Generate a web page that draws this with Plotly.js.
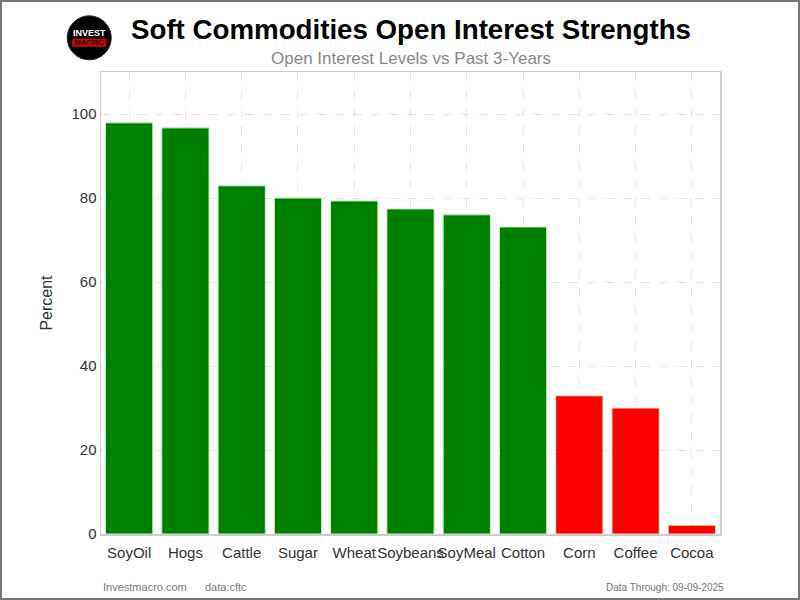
<!DOCTYPE html>
<html><head><meta charset="utf-8">
<script src="https://cdn.plot.ly/plotly-3.0.1.min.js"></script>
<style>html,body{margin:0;padding:0;background:#fff}#c{width:800px;height:600px;box-sizing:border-box;border:2px solid #777}</style>
</head><body><div id="c"></div>
<script>
var categories = ["SoyOil","Hogs","Cattle","Sugar","Wheat","Soybeans","SoyMeal","Cotton","Corn","Coffee","Cocoa"];
var values = [97.9, 96.7, 82.9, 80.0, 79.3, 77.4, 76.0, 73.1, 32.9, 30.0, 2.1];
var yTicks = [0, 20, 40, 60, 80, 100];
var colors = values.map(function(v){ return v >= 50 ? "#008000" : "#ff0000"; });

var F = "Liberation Sans, Arial, sans-serif";
var trace = {
  type: "bar", x: categories, y: values,
  marker: {color: colors, line: {color: "#c8f0c8", width: 1}},
  hoverinfo: "x+y"
};
var layout = {
  width: 796, height: 596,
  margin: {l: 99, r: 78, t: 70, b: 64},
  paper_bgcolor: "#fff", plot_bgcolor: "#fff",
  showlegend: false,
  bargap: 0.16,
  font: {family: F, color: "#333", size: 15},
  xaxis: {
    range: [-0.5, 10.5], tickfont: {size: 15, color: "#333"}, tickangle: 0,
    ticklabelstandoff: 4,
    showgrid: true, gridcolor: "#e3e3e3", griddash: "dash", gridwidth: 1,
    showline: true, linecolor: "#cccccc", linewidth: 1.5, mirror: true,
    ticks: "", zeroline: false
  },
  yaxis: {
    range: [0, 110], tickvals: yTicks, tickfont: {size: 15, color: "#333"},
    title: {text: "Percent", font: {size: 16, color: "#333"}, standoff: 15},
    showgrid: true, gridcolor: "#e3e3e3", griddash: "dash", gridwidth: 1,
    showline: true, linecolor: "#cccccc", linewidth: 1.5, mirror: true,
    ticks: "", zeroline: false
  },
  shapes: [
    {type: "circle", xref: "paper", yref: "paper", xsizemode: "pixel", ysizemode: "pixel",
     xanchor: -0.019, yanchor: 1.074, x0: -22, x1: 22, y0: -22, y1: 22,
     fillcolor: "#000", line: {color: "#222", width: 1}},
    {type: "rect", xref: "paper", yref: "paper", xsizemode: "pixel", ysizemode: "pixel",
     xanchor: -0.019, yanchor: 1.074, x0: -17, x1: 17, y0: -9, y1: -1,
     fillcolor: "#e00000", line: {width: 0}}
  ],
  annotations: [
    {text: "<b>Soft Commodities Open Interest Strengths</b>", xref: "paper", yref: "paper",
     x: 0.5, y: 1.091, xanchor: "center", yanchor: "middle", showarrow: false,
     font: {family: F, size: 27.7, color: "#000"}},
    {text: "Open Interest Levels vs Past 3-Years", xref: "paper", yref: "paper",
     x: 0.5, y: 1.03, xanchor: "center", yanchor: "middle", showarrow: false,
     font: {family: F, size: 17, color: "#888"}},
    {text: "<b>INVEST</b>", xref: "paper", yref: "paper", x: -0.019, y: 1.085,
     xanchor: "center", yanchor: "middle", showarrow: false,
     font: {family: F, size: 9, color: "#fff"}},
    {text: "<b>MACRO</b>", xref: "paper", yref: "paper", x: -0.019, y: 1.063,
     xanchor: "center", yanchor: "middle", showarrow: false,
     font: {family: F, size: 8, color: "#000"}},
    {text: "Investmacro.com", xref: "paper", yref: "paper", x: 0, y: -0.115,
     xanchor: "left", yanchor: "middle", showarrow: false,
     font: {family: "Liberation Sans Narrow, " + F, size: 11, color: "#777"}},
    {text: "data:cftc", xref: "paper", yref: "paper", x: 0.164, y: -0.115,
     xanchor: "left", yanchor: "middle", showarrow: false,
     font: {family: "Liberation Sans Narrow, " + F, size: 11, color: "#777"}},
    {text: "Data Through: 09-09-2025", xref: "paper", yref: "paper", x: 1.01, y: -0.115,
     xanchor: "right", yanchor: "middle", showarrow: false,
     font: {family: "Liberation Sans Narrow, " + F, size: 10, color: "#777"}}
  ]
};
Plotly.newPlot("c", [trace], layout, {displayModeBar: false, staticPlot: true});
</script></body></html>
